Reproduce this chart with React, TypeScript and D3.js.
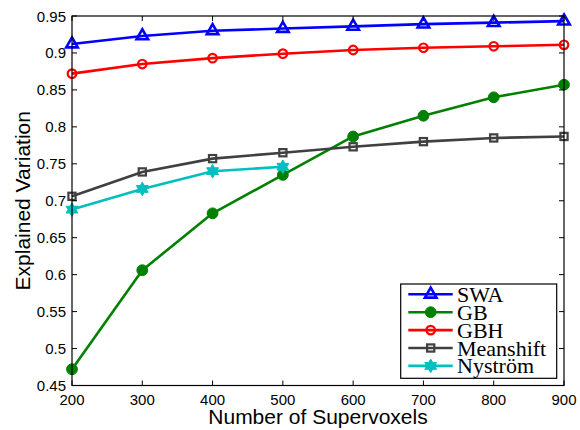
import React from "react";
import * as d3 from "d3";

const xValues = [200, 300, 400, 500, 600, 700, 800, 900];
const swa = [0.912, 0.923, 0.93, 0.933, 0.936, 0.939, 0.941, 0.943];
const gb = [0.472, 0.606, 0.683, 0.735, 0.787, 0.815, 0.84, 0.857];
const gbh = [0.872, 0.885, 0.893, 0.899, 0.904, 0.907, 0.909, 0.911];
const meanshift = [0.706, 0.739, 0.757, 0.765, 0.773, 0.78, 0.785, 0.787];
const nystrom = [0.688, 0.716, 0.74, 0.746];
const seriesNames = ["SWA", "GB", "GBH", "Meanshift", "Nyström"];
const xTicks = [200, 300, 400, 500, 600, 700, 800, 900];
const yTicks = [0.45, 0.5, 0.55, 0.6, 0.65, 0.7, 0.75, 0.8, 0.85, 0.9, 0.95];
const yTickLabels = ["0.45", "0.5", "0.55", "0.6", "0.65", "0.7", "0.75", "0.8", "0.85", "0.9", "0.95"];

type Marker = "triangle" | "dot" | "circle" | "square" | "hexagram";

const series: { name: string; values: number[]; color: string; marker: Marker }[] = [
  { name: seriesNames[0], values: swa, color: "#0000ff", marker: "triangle" },
  { name: seriesNames[1], values: gb, color: "#008000", marker: "dot" },
  { name: seriesNames[2], values: gbh, color: "#ff0000", marker: "circle" },
  { name: seriesNames[3], values: meanshift, color: "#404040", marker: "square" },
  { name: seriesNames[4], values: nystrom, color: "#00bfbf", marker: "hexagram" },
];

const W = 580;
const H = 430;
const L = 72;
const R = 564;
const T = 16;
const B = 385.5;

function hexagramPath(R0: number) {
  const r = R0 / Math.sqrt(3);
  const pts: [number, number][] = [];
  for (let i = 0; i < 12; i++) {
    const a = -Math.PI / 2 + (i * Math.PI) / 6;
    const rad = i % 2 === 0 ? R0 : r;
    pts.push([rad * Math.cos(a), rad * Math.sin(a)]);
  }
  return d3.line()(pts)! + "Z";
}

function MarkerShape({ type, x, y, color }: { type: Marker; x: number; y: number; color: string }) {
  const tr = `translate(${x},${y})`;
  switch (type) {
    case "triangle":
      return (
        <path
          transform={tr}
          d={d3.symbol().type(d3.symbolTriangle).size(58)()!}
          fill="none"
          stroke={color}
          strokeWidth={2.6}
          strokeLinejoin="miter"
        />
      );
    case "dot":
      return <circle transform={tr} r={5.4} fill={color} stroke={color} strokeWidth={1} />;
    case "circle":
      return <circle transform={tr} r={4.3} fill="none" stroke={color} strokeWidth={2.2} />;
    case "square":
      return <rect transform={tr} x={-3.6} y={-3.6} width={7.2} height={7.2} fill="none" stroke={color} strokeWidth={2.2} />;
    case "hexagram":
      return <path transform={tr} d={hexagramPath(6.8)} fill={color} stroke={color} strokeWidth={1} strokeLinejoin="round" />;
  }
}

export default function App() {
  const x = d3.scaleLinear().domain([200, 900]).range([L, R]);
  const y = d3.scaleLinear().domain([0.45, 0.95]).range([B, T]);
  const line = d3
    .line<number>()
    .x((_, i) => x(xValues[i]))
    .y((d) => y(d));

  const tickLen = 5;
  const sans = "'Liberation Sans', Arial, Helvetica, sans-serif";
  const serif = "'Liberation Serif', 'Times New Roman', serif";

  const legX0 = 400.7;
  const legY0 = 284;
  const legW = 156;
  const legH = 94.3;
  const legRowY = (i: number) => 294.3 + i * 17.9;

  return (
    <svg width={W} height={H} style={{ position: "absolute", left: 0, top: 0, background: "#fff" }}>
      <rect x={0} y={0} width={W} height={H} fill="#fff" />
      {series.map((s) => (
        <g key={s.name}>
          <path d={line(s.values)!} fill="none" stroke={s.color} strokeWidth={2.6} strokeLinejoin="round" />
          {s.values.map((v, i) => (
            <MarkerShape key={i} type={s.marker} x={x(xValues[i])} y={y(v)} color={s.color} />
          ))}
        </g>
      ))}
      <rect x={L} y={T} width={R - L} height={B - T} fill="none" stroke="#000" strokeWidth={1.2} />
      {xTicks.map((t) => (
        <g key={"xt" + t}>
          <line x1={x(t)} x2={x(t)} y1={B} y2={B - tickLen} stroke="#000" strokeWidth={1} />
          <line x1={x(t)} x2={x(t)} y1={T} y2={T + tickLen} stroke="#000" strokeWidth={1} />
          <text x={x(t)} y={404.5} textAnchor="middle" fontFamily={sans} fontSize={15} fill="#000">
            {t}
          </text>
        </g>
      ))}
      {yTicks.map((t, i) => (
        <g key={"yt" + t}>
          <line x1={L} x2={L + tickLen} y1={y(t)} y2={y(t)} stroke="#000" strokeWidth={1} />
          <line x1={R} x2={R - tickLen} y1={y(t)} y2={y(t)} stroke="#000" strokeWidth={1} />
          <text x={66} y={y(t) + 5.5} textAnchor="end" fontFamily={sans} fontSize={15} fill="#000">
            {yTickLabels[i]}
          </text>
        </g>
      ))}
      <text x={(L + R) / 2} y={423.5} textAnchor="middle" fontFamily={sans} fontSize={21} fill="#000">
        Number of Supervoxels
      </text>
      <text
        transform={`translate(30,${(T + B) / 2}) rotate(-90)`}
        textAnchor="middle"
        fontFamily={sans}
        fontSize={21}
        fill="#000"
      >
        Explained Variation
      </text>
      <rect x={legX0} y={legY0} width={legW} height={legH} fill="#fff" stroke="#000" strokeWidth={1.2} />
      {series.map((s, i) => (
        <g key={"lg" + s.name}>
          <line x1={408.3} x2={452.7} y1={legRowY(i)} y2={legRowY(i)} stroke={s.color} strokeWidth={2.6} />
          <MarkerShape type={s.marker} x={430.7} y={legRowY(i)} color={s.color} />
          <text x={457} y={legRowY(i) + 7.5} fontFamily={serif} fontSize={22} fill="#000">
            {s.name}
          </text>
        </g>
      ))}
    </svg>
  );
}
